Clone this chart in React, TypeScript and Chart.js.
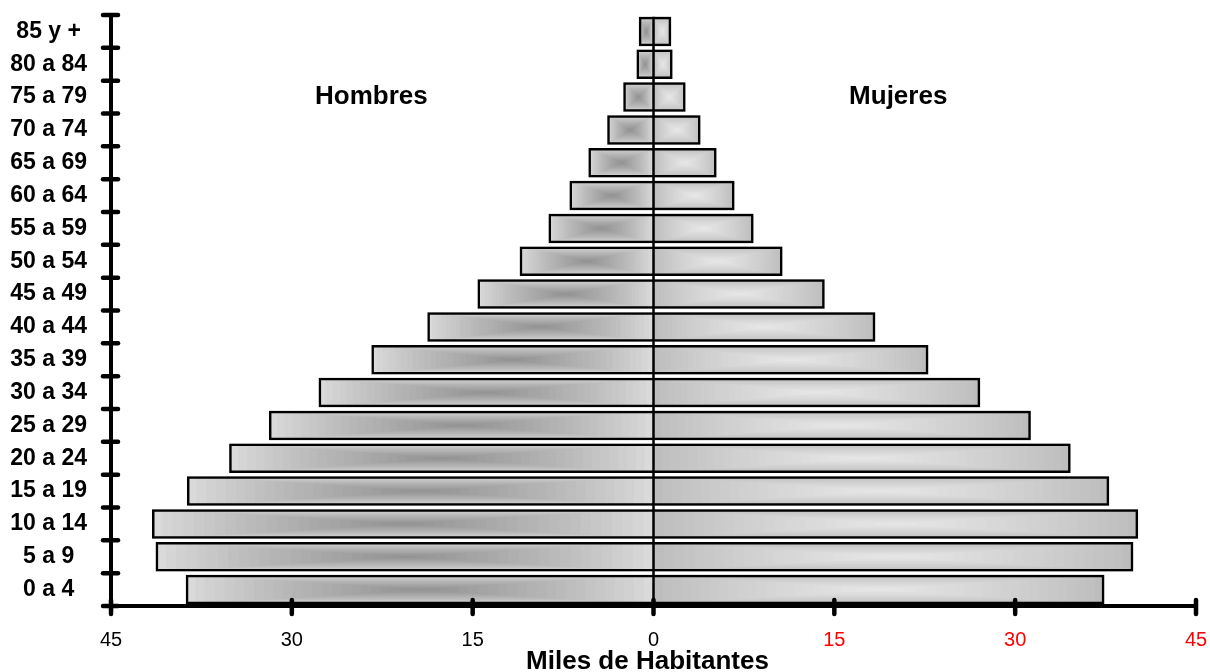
import React, { useEffect, useRef } from 'react';
import { Chart, registerables } from 'chart.js';

Chart.register(...registerables);

// ---- Data ----
const ageGroups = [
  '85 y +', '80 a 84', '75 a 79', '70 a 74', '65 a 69', '60 a 64',
  '55 a 59', '50 a 54', '45 a 49', '40 a 44', '35 a 39', '30 a 34',
  '25 a 29', '20 a 24', '15 a 19', '10 a 14', '5 a 9', '0 a 4',
];
const hombres = [
  -1.22, -1.41, -2.51, -3.84, -5.4, -6.97, -8.71, -11.1, -14.6, -18.76,
  -23.4, -27.78, -31.9, -35.2, -38.7, -41.6, -41.3, -38.8,
];
const mujeres = [
  1.47, 1.58, 2.66, 3.9, 5.23, 6.72, 8.3, 10.7, 14.2, 18.4,
  22.8, 27.1, 31.3, 34.6, 37.8, 40.2, 39.8, 37.4,
];
const xMin = -45;
const xMax = 45;
const xStep = 15;
const sideLabels = ['Hombres', 'Mujeres'];
const sideLabelX = [-23.4, 20.3];
const sideLabelRow = 2;
const axisTitle = 'Miles de Habitantes';

const FONT = '"Liberation Sans", Arial, Helvetica, sans-serif';

function hexToRgb(h: string) {
  const n = parseInt(h.slice(1), 16);
  return [(n >> 16) & 255, (n >> 8) & 255, n & 255];
}
function mix(a: string, b: string, t: number) {
  const A = hexToRgb(a);
  const B = hexToRgb(b);
  const c = A.map((v, i) => Math.round(v + (B[i] - v) * t));
  return `rgb(${c[0]},${c[1]},${c[2]})`;
}

const gradientColors = [
  { edge: '#dadada', center: '#919191' },
  { edge: '#bdbdbd', center: '#e8e8e8' },
];

const pathGradientPlugin = {
  id: 'pathGradient',
  beforeDatasetsDraw(chart: any) {
    const ctx = chart.ctx;
    chart.data.datasets.forEach((_: any, di: number) => {
      const meta = chart.getDatasetMeta(di);
      const cols = gradientColors[di];
      meta.data.forEach((el: any) => {
        const p = el.getProps(['x', 'y', 'base', 'height'], true);
        const left = Math.min(p.x, p.base);
        const w = Math.abs(p.x - p.base);
        const top = p.y - p.height / 2;
        const h = p.height;
        const N = 24;
        ctx.save();
        for (let i = 0; i < N; i++) {
          const s = i / N;
          const dx = (s * w) / 2;
          const dy = (s * h) / 2;
          ctx.fillStyle = mix(cols.edge, cols.center, Math.pow(s, 0.85));
          ctx.fillRect(left + dx, top + dy, w - 2 * dx, h - 2 * dy);
        }
        ctx.restore();
      });
    });
  },
};

const decorPlugin = {
  id: 'decor',
  afterDraw(chart: any) {
    const ctx = chart.ctx;
    const xs = chart.scales.x;
    const ys = chart.scales.y;
    const area = chart.chartArea;
    ctx.save();
    ctx.strokeStyle = '#000';

    // zero line
    const x0 = xs.getPixelForValue(0);
    const firstBar = chart.getDatasetMeta(0).data[0];
    const fb = firstBar.getProps(['y', 'height'], true);
    ctx.lineWidth = 2.5;
    ctx.lineCap = 'butt';
    ctx.beginPath();
    ctx.moveTo(x0, fb.y - fb.height / 2);
    ctx.lineTo(x0, area.bottom);
    ctx.stroke();

    // y axis line
    ctx.lineWidth = 4;
    ctx.beginPath();
    ctx.moveTo(area.left, area.top);
    ctx.lineTo(area.left, area.bottom);
    ctx.stroke();
    // x axis line
    ctx.beginPath();
    ctx.moveTo(area.left, area.bottom);
    ctx.lineTo(area.right, area.bottom);
    ctx.stroke();

    ctx.lineCap = 'round';
    ctx.lineWidth = 4.5;
    // y ticks at category boundaries
    for (let i = 0; i <= ageGroups.length; i++) {
      const y = ys.getPixelForValue(i - 0.5);
      ctx.beginPath();
      ctx.moveTo(area.left - 8, y);
      ctx.lineTo(area.left + 7, y);
      ctx.stroke();
    }
    // x ticks
    for (let v = xMin; v <= xMax; v += xStep) {
      const x = xs.getPixelForValue(v);
      ctx.beginPath();
      ctx.moveTo(x, area.bottom - 6);
      ctx.lineTo(x, area.bottom + 8);
      ctx.stroke();
    }

    // side labels
    ctx.fillStyle = '#000';
    ctx.font = `bold 26px ${FONT}`;
    ctx.textAlign = 'center';
    ctx.textBaseline = 'middle';
    sideLabels.forEach((t, i) => {
      ctx.fillText(t, xs.getPixelForValue(sideLabelX[i]), ys.getPixelForValue(sideLabelRow));
    });

    // axis title
    ctx.font = `bold 26px ${FONT}`;
    ctx.textBaseline = 'alphabetic';
    ctx.fillText(axisTitle, xs.getPixelForValue(-0.5), 669);
    ctx.restore();
  },
};

export default function App() {
  const ref = useRef<HTMLCanvasElement | null>(null);
  useEffect(() => {
    if (!ref.current) return;
    const chart = new Chart(ref.current, {
      type: 'bar',
      data: {
        labels: ageGroups,
        datasets: [
          {
            label: 'Hombres',
            data: hombres,
            backgroundColor: 'rgba(0,0,0,0)',
            borderColor: '#000',
            borderWidth: 2.5,
            borderSkipped: 'start',
            barPercentage: 0.9,
            categoryPercentage: 1,
          },
          {
            label: 'Mujeres',
            data: mujeres,
            backgroundColor: 'rgba(0,0,0,0)',
            borderColor: '#000',
            borderWidth: 2.5,
            borderSkipped: 'start',
            barPercentage: 0.9,
            categoryPercentage: 1,
          },
        ],
      },
      options: {
        indexAxis: 'y',
        animation: false,
        responsive: false,
        maintainAspectRatio: false,
        layout: { padding: { top: 15, right: 14, left: 0, bottom: 0 } },
        plugins: {
          legend: { display: false },
          tooltip: { enabled: false },
        },
        scales: {
          x: {
            type: 'linear',
            stacked: true,
            min: xMin,
            max: xMax,
            grid: { display: false, drawTicks: false },
            border: { display: false },
            ticks: {
              stepSize: xStep,
              padding: 22,
              font: { family: FONT, size: 20 },
              color: (c: any) => (c.tick && c.tick.value > 0 ? '#ff0000' : '#000000'),
              callback: (v: any) => String(Math.abs(Number(v))),
              maxRotation: 0,
            },
            afterFit: (s: any) => {
              s.height = 66;
              s.paddingLeft = 0;
              s.paddingRight = 0;
            },
          },
          y: {
            type: 'category',
            stacked: true,
            grid: { display: false, drawTicks: false },
            border: { display: false },
            ticks: {
              font: { family: FONT, size: 23, weight: 'bold' },
              color: '#000',
              crossAlign: 'center',
              padding: 24,
              autoSkip: false,
            },
            afterFit: (s: any) => {
              s.width = 111;
              s.paddingTop = 0;
              s.paddingBottom = 0;
            },
          },
        },
      },
      plugins: [pathGradientPlugin, decorPlugin],
    } as any);
    return () => chart.destroy();
  }, []);
  return (
    <div style={{ position: 'fixed', left: 0, top: 0, width: 1210, height: 672, background: '#fff' }}>
      <canvas ref={ref} width={1210} height={672} style={{ display: 'block' }} />
    </div>
  );
}
